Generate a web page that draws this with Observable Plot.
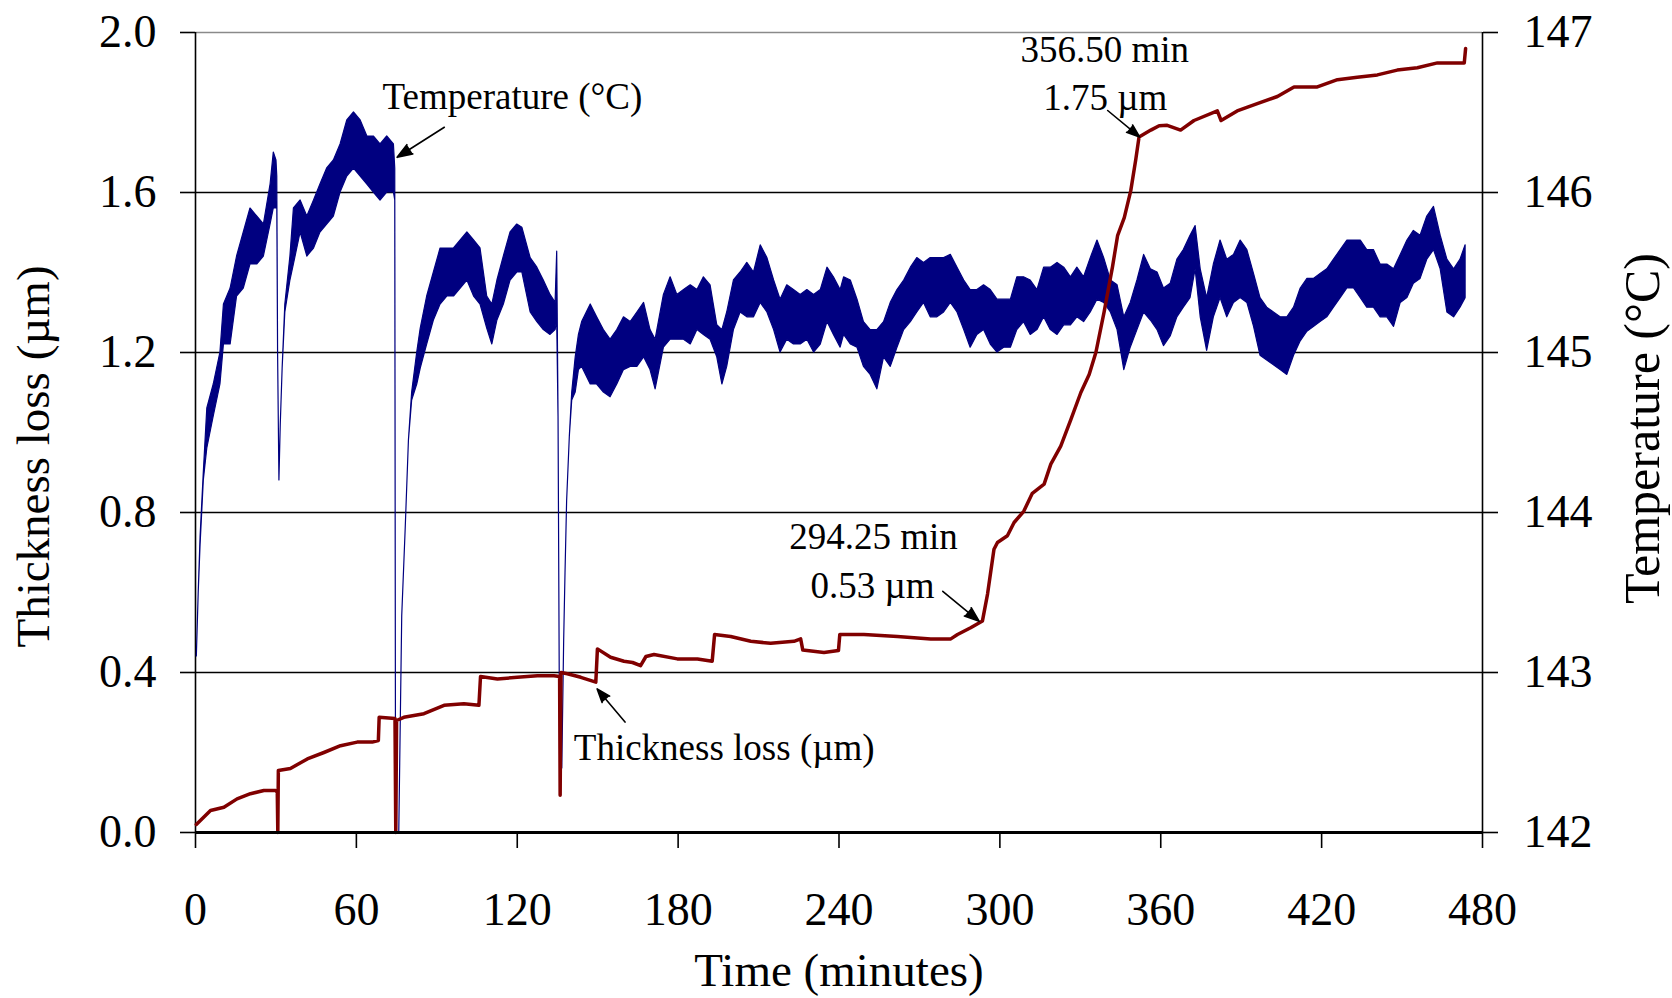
<!DOCTYPE html>
<html>
<head>
<meta charset="utf-8">
<script src="https://cdn.jsdelivr.net/npm/d3@7"></script>
<script src="https://cdn.jsdelivr.net/npm/@observablehq/plot@0.6"></script>
<style>
html, body { margin: 0; padding: 0; background: #ffffff; }
#chart { width: 1672px; height: 998px; }
</style>
</head>
<body>
<div id="chart"></div>
<script>
// ---- Temperature (°C): time (min), lower and upper envelope of the oscillating trace
const tempTime = [0.5,1.2,1.9,3.1,4.4,6.8,9.3,10.6,13.1,15.5,18.0,20.5,23.0,25.5,28.0,29.2,30.2,30.5,30.8,31.3,31.8,32.5,33.5,35.4,36.7,39.2,41.7,44.2,46.6,49.1,51.6,54.1,56.6,59.1,61.6,64.1,66.5,69.0,71.5,74.0,74.5,74.8,76.0,77.1,78.4,79.6,80.8,82.7,84.0,86.4,88.9,91.4,93.9,96.4,98.9,101.4,103.9,106.3,108.8,110.7,112.6,115.0,117.5,120.0,121.9,125.0,127.5,129.9,132.4,134.3,134.9,135.4,136.0,136.8,137.5,138.0,138.6,139.6,140.5,141.8,143.0,144.2,147.4,149.8,152.3,154.8,157.3,159.8,162.3,164.8,167.3,169.7,171.6,174.7,177.2,179.7,182.2,184.7,187.2,189.6,192.1,194.6,196.5,198.3,200.8,203.3,205.8,208.3,210.8,213.3,215.8,218.2,220.7,223.2,225.7,228.2,230.7,233.2,235.7,238.1,240.6,241.9,244.4,246.9,249.3,251.8,254.3,256.8,259.3,261.8,264.3,266.8,269.2,271.7,274.2,276.7,279.2,281.7,284.2,286.7,289.1,291.6,294.1,296.6,299.1,301.6,304.1,306.5,309.0,311.5,314.0,316.5,319.0,321.5,324.0,326.5,328.9,331.4,333.9,336.4,338.9,341.4,343.9,346.4,348.8,351.3,353.8,356.3,358.8,361.2,363.7,366.2,368.6,371.1,373.0,374.9,377.3,379.8,382.3,384.8,387.3,389.8,392.3,394.8,397.2,399.7,402.2,404.7,407.2,409.7,412.2,414.7,417.1,419.6,422.1,424.6,427.1,429.6,432.1,434.6,437.0,439.5,442.0,444.5,447.0,449.5,452.0,454.4,456.9,459.4,461.9,464.4,466.9,469.4,471.8,473.7];
const tempLow = [143.10,143.50,143.80,144.20,144.40,144.60,144.80,145.05,145.05,145.35,145.40,145.55,145.55,145.60,145.80,145.90,145.90,145.95,145.00,144.20,144.55,144.90,145.25,145.45,145.55,145.75,145.60,145.65,145.75,145.80,145.85,146.00,146.10,146.15,146.10,146.05,146.00,145.95,146.00,146.00,145.95,142.00,142.00,143.35,143.90,144.45,144.70,144.80,144.90,145.05,145.20,145.30,145.35,145.35,145.40,145.45,145.35,145.30,145.15,145.05,145.20,145.30,145.45,145.50,145.50,145.25,145.19,145.14,145.11,145.14,145.20,144.60,142.40,142.40,143.20,143.62,144.07,144.47,144.70,144.75,144.89,144.91,144.80,144.80,144.75,144.72,144.80,144.89,144.91,144.91,144.97,144.89,144.77,145.03,145.08,145.08,145.08,145.05,145.14,145.11,145.08,144.97,144.80,144.91,145.14,145.25,145.22,145.22,145.31,145.25,145.14,145.00,145.08,145.05,145.05,145.08,145.00,145.05,145.19,145.11,145.03,145.11,145.05,145.03,144.91,144.86,144.77,144.97,144.91,145.03,145.14,145.19,145.25,145.31,145.22,145.22,145.25,145.31,145.25,145.14,145.03,145.11,145.14,145.05,145.00,145.03,145.03,145.14,145.19,145.11,145.14,145.22,145.14,145.11,145.17,145.17,145.22,145.19,145.25,145.33,145.31,145.25,145.14,144.89,145.03,145.14,145.25,145.20,145.14,145.04,145.10,145.22,145.28,145.34,145.52,145.22,145.01,145.22,145.34,145.22,145.31,145.34,145.31,145.16,144.98,144.95,144.92,144.89,144.86,144.98,145.07,145.13,145.16,145.19,145.22,145.28,145.34,145.40,145.40,145.34,145.28,145.28,145.22,145.22,145.16,145.31,145.34,145.43,145.46,145.58,145.64,145.52,145.25,145.22,145.28,145.34];
const tempHigh = [143.10,143.50,143.85,144.25,144.65,144.80,145.00,145.30,145.40,145.60,145.75,145.90,145.85,145.80,146.05,146.25,146.20,146.10,145.00,144.20,144.55,144.90,145.30,145.60,145.90,145.95,145.85,145.95,146.05,146.15,146.20,146.30,146.45,146.50,146.45,146.35,146.35,146.30,146.35,146.30,146.15,142.00,142.00,143.35,143.90,144.45,144.75,145.00,145.15,145.35,145.50,145.65,145.65,145.65,145.70,145.75,145.70,145.65,145.35,145.30,145.45,145.60,145.75,145.80,145.78,145.59,145.53,145.45,145.36,145.31,145.63,144.60,142.40,142.40,143.20,143.62,144.07,144.47,144.75,144.97,145.11,145.19,145.30,145.22,145.14,145.08,145.14,145.22,145.19,145.25,145.31,145.14,145.08,145.36,145.47,145.36,145.39,145.42,145.39,145.47,145.42,145.17,145.14,145.25,145.45,145.50,145.56,145.50,145.67,145.59,145.45,145.33,145.42,145.39,145.36,145.39,145.36,145.39,145.53,145.47,145.39,145.47,145.45,145.33,145.19,145.14,145.14,145.19,145.31,145.39,145.45,145.53,145.59,145.56,145.59,145.59,145.59,145.61,145.53,145.45,145.39,145.39,145.42,145.39,145.33,145.33,145.33,145.47,145.47,145.45,145.39,145.53,145.53,145.56,145.53,145.47,145.53,145.47,145.59,145.70,145.59,145.45,145.42,145.22,145.31,145.45,145.61,145.52,145.50,145.40,145.43,145.58,145.64,145.73,145.79,145.52,145.34,145.55,145.70,145.58,145.61,145.70,145.64,145.49,145.34,145.28,145.25,145.22,145.22,145.28,145.40,145.46,145.46,145.49,145.52,145.58,145.64,145.70,145.70,145.70,145.64,145.64,145.55,145.55,145.52,145.61,145.70,145.76,145.73,145.85,145.91,145.73,145.58,145.52,145.58,145.67];

// ---- Thickness loss (µm)
const lossTime = [0.3,5.6,10.6,15.5,20.5,25.5,29.9,30.5,30.7,30.9,35.4,41.7,47.9,54.1,60.3,65.9,68.2,68.5,74.4,74.7,75.0,77.7,85.2,92.7,100.1,105.7,106.3,112.6,120.0,127.5,133.7,135.8,136.0,136.3,138.7,143.7,149.3,149.9,154.8,159.8,163.0,166.0,168.0,171.0,179.7,187.2,192.7,193.6,199.6,207.1,214.5,223.2,225.7,226.5,234.4,239.8,240.3,249.3,261.8,274.2,281.7,284.2,289.1,293.5,295.4,297.8,299.1,302.8,305.3,308.9,312.1,316.5,319.0,322.7,326.5,330.2,333.3,335.8,338.9,342.0,343.9,346.4,348.8,350.7,351.9,356.3,359.4,362.4,367.4,372.4,381.1,382.5,388.5,396.0,403.5,409.7,418.4,425.9,433.3,440.8,448.2,455.7,463.2,468.1,473.2,473.7];
const lossValue = [0.020,0.055,0.063,0.084,0.097,0.105,0.105,0.100,0.000,0.155,0.160,0.184,0.200,0.217,0.226,0.226,0.230,0.288,0.285,0.000,0.280,0.288,0.297,0.318,0.322,0.318,0.390,0.384,0.388,0.392,0.392,0.390,0.093,0.400,0.397,0.388,0.376,0.459,0.438,0.428,0.425,0.417,0.440,0.445,0.434,0.434,0.428,0.495,0.490,0.478,0.473,0.478,0.484,0.456,0.450,0.455,0.495,0.495,0.490,0.484,0.484,0.495,0.512,0.529,0.596,0.708,0.725,0.742,0.775,0.803,0.848,0.871,0.921,0.966,1.033,1.100,1.145,1.200,1.302,1.414,1.492,1.537,1.604,1.683,1.739,1.756,1.767,1.768,1.756,1.780,1.804,1.780,1.804,1.822,1.840,1.864,1.864,1.882,1.888,1.894,1.906,1.912,1.924,1.924,1.924,1.960];

// ---- Axes
const xTicks = [0, 60, 120, 180, 240, 300, 360, 420, 480];
const lossTicks = [0, 0.4, 0.8, 1.2, 1.6, 2.0];
const tempTicks = [142, 143, 144, 145, 146, 147];
const xTitle = "Time (minutes)";
const leftTitle = "Thickness loss (µm)";
const rightTitle = "Temperature (°C)";

// ---- Annotations (in data units: minutes, µm)
const annotationLabels = ["Temperature (°C)", "Thickness loss (µm)", "294.25 min", "0.53 µm", "356.50 min", "1.75 µm"];
const annotationX = [118.2, 197.2, 252.9, 252.5, 339.1, 339.3];
const annotationY = [1.838, 0.210, 0.738, 0.615, 1.957, 1.837];
const arrowFromX = [92.8, 160.2, 278.7, 340.2];
const arrowFromY = [1.763, 0.276, 0.603, 1.805];
const arrowToX = [75.2, 149.8, 292.3, 352.1];
const arrowToY = [1.688, 0.359, 0.528, 1.739];

// temperature -> left-axis units (142 °C ↔ 0 µm, 147 °C ↔ 2 µm)
const toLoss = t => (t - 142) / 2.5;

const tempRows = tempTime.map((t, i) => ({t, lo: toLoss(tempLow[i]), hi: toLoss(tempHigh[i])}));
const lossRows = lossTime.map((t, i) => ({t, v: lossValue[i]}));
const notes = annotationLabels.map((s, i) => ({s, x: annotationX[i], y: annotationY[i]}));
const arrows = arrowFromX.map((x1, i) => ({x1, y1: arrowFromY[i], x2: arrowToX[i], y2: arrowToY[i]}));

const serif = '"Liberation Serif", "Times New Roman", serif';

const chart = Plot.plot({
  width: 1672,
  height: 998,
  marginLeft: 195,
  marginRight: 190,
  marginTop: 32,
  marginBottom: 166,
  x: {domain: [0, 480]},
  y: {domain: [0, 2]},
  style: {fontFamily: serif, fontSize: "46px", background: "#ffffff", color: "#000000"},
  marks: [
    Plot.ruleY(lossTicks.filter(d => d > 0 && d < 2), {stroke: "#000000", strokeWidth: 1.6}),
    Plot.ruleY([2], {stroke: "#8a8a8a", strokeWidth: 1.6}),
    Plot.ruleX([0, 480], {stroke: "#000000", strokeWidth: 1.6}),
    Plot.areaY(tempRows, {x: "t", y1: "lo", y2: "hi", fill: "#000080", stroke: "#000080", strokeWidth: 1.2}),
    Plot.line(lossRows, {x: "t", y: "v", stroke: "#800000", strokeWidth: 3.5}),
    Plot.ruleY([0], {stroke: "#000000", strokeWidth: 3}),
    Plot.axisY({ticks: lossTicks, anchor: "left", tickSize: 15, tickPadding: 24, tickFormat: d3.format(".1f"), label: null, fontSize: 46, strokeWidth: 1.6}),
    Plot.axisY({ticks: tempTicks.map(toLoss), anchor: "right", tickSize: 15, tickPadding: 26, tickFormat: d => String(Math.round(142 + d * 2.5)), label: null, fontSize: 46, strokeWidth: 1.6}),
    Plot.axisX({ticks: xTicks, anchor: "bottom", tickSize: 16, tickPadding: 44, label: null, fontSize: 46, strokeWidth: 1.6}),
    Plot.arrow(arrows, {x1: "x1", y1: "y1", x2: "x2", y2: "y2", stroke: "#000000", fill: "#000000", strokeWidth: 1.6, headLength: 15, headAngle: 40}),
    Plot.text(notes, {x: "x", y: "y", text: "s", fontSize: 37, fill: "#000000"}),
    Plot.text([xTitle], {text: d => d, frameAnchor: "bottom", textAnchor: "middle", lineAnchor: "middle", dy: 138, fontSize: 47, fill: "#000000"}),
    Plot.text([leftTitle], {text: d => d, frameAnchor: "left", textAnchor: "middle", lineAnchor: "middle", dx: -162, dy: 24, rotate: -90, fontSize: 47, fill: "#000000"}),
    Plot.text([rightTitle], {text: d => d, frameAnchor: "right", textAnchor: "middle", lineAnchor: "middle", dx: 160, dy: -4, rotate: -90, fontSize: 50, fill: "#000000"})
  ]
});
document.getElementById("chart").appendChild(chart);
</script>
</body>
</html>
